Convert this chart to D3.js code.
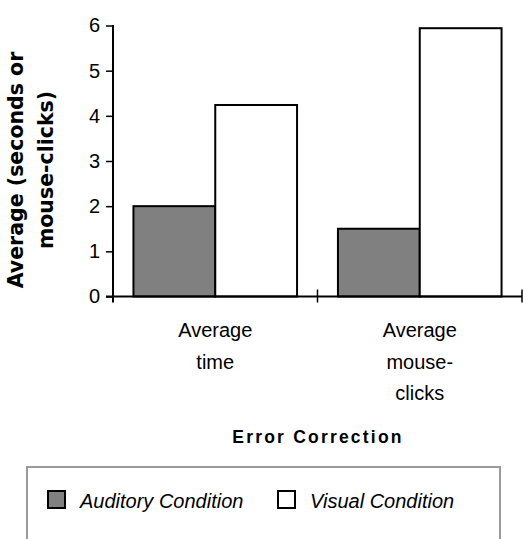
<!DOCTYPE html>
<html>
<head>
<meta charset="utf-8">
<script src="https://cdn.jsdelivr.net/npm/d3@7"></script>
<style>
  html, body { margin: 0; padding: 0; background: #fff; }
  svg { display: block; }
</style>
</head>
<body>
<svg id="chart" width="523" height="539"></svg>
<script>
// Error-correction measures, one bar per condition in each group
const categories = [["Average", "time"], ["Average", "mouse-", "clicks"]];
const seriesNames = ["Auditory Condition", "Visual Condition"];
const auditory = [2.0, 1.5];
const visual = [4.24, 5.94];
const yTicks = [0, 1, 2, 3, 4, 5, 6];
const xTitle = "Error Correction";
const yTitle = ["Average (seconds or", "mouse-clicks)"];

const fills = ["#808080", "#ffffff"];
const svg = d3.select("#chart");

const catKeys = categories.map(c => c.join(" "));
const rows = catKeys.map((k, i) => ({ key: k, values: [auditory[i], visual[i]] }));

const x = d3.scaleBand().domain(catKeys).range([113, 522]).paddingInner(0).paddingOuter(0);
const xs = d3.scaleBand().domain(seriesNames).range([0, x.bandwidth()]).paddingInner(0).paddingOuter(0.25);
const y = d3.scaleLinear().domain([0, 6]).range([296.5, 25.5]);

// Bars
const groups = svg.append("g").selectAll("g").data(rows).join("g")
  .attr("transform", d => `translate(${x(d.key)},0)`);
groups.selectAll("rect")
  .data(d => d.values.map((v, j) => ({ name: seriesNames[j], v, j })))
  .join("rect")
  .attr("x", d => xs(d.name))
  .attr("width", xs.bandwidth())
  .attr("y", d => y(d.v))
  .attr("height", d => y(0) - y(d.v))
  .attr("fill", d => fills[d.j])
  .attr("stroke", "#000")
  .attr("stroke-width", 2);

// Y axis
const yAxis = svg.append("g").attr("transform", "translate(113,0)")
  .call(d3.axisLeft(y).tickValues(yTicks).tickFormat(d3.format("d")).tickSize(7).tickPadding(6));
yAxis.select(".domain").remove();
yAxis.append("line").attr("x1", 0).attr("x2", 0).attr("y1", y(6) - 0.5).attr("y2", y(0) + 6)
  .attr("stroke", "#000").attr("stroke-width", 2);
yAxis.selectAll(".tick line").attr("stroke", "#000").attr("stroke-width", 1.5);
yAxis.selectAll(".tick text")
  .attr("fill", "#000")
  .style("font-family", "Liberation Sans, Arial, sans-serif")
  .style("font-size", "20px");

// X axis line with tick marks at the group boundaries
const xAxis = svg.append("g");
xAxis.append("line").attr("x1", x.range()[0] - 7).attr("x2", x.range()[1])
  .attr("y1", y(0)).attr("y2", y(0)).attr("stroke", "#000").attr("stroke-width", 2);
const bounds = catKeys.map(k => x(k)).concat([x.range()[1]]).slice(1);
xAxis.selectAll("line.tk").data(bounds).join("line").attr("class", "tk")
  .attr("x1", d => d).attr("x2", d => d)
  .attr("y1", y(0) - 7).attr("y2", y(0) + 6)
  .attr("stroke", "#000").attr("stroke-width", 1.5);

// Category labels
const catLabels = svg.append("g").selectAll("text").data(categories).join("text")
  .attr("text-anchor", "middle")
  .style("font-family", "Liberation Sans, Arial, sans-serif")
  .style("font-size", "20px")
  .attr("fill", "#000");
catLabels.selectAll("tspan").data((d, i) => d.map(line => ({ line, key: catKeys[i] }))).join("tspan")
  .attr("x", d => x(d.key) + x.bandwidth() / 2)
  .attr("y", (d, j) => 337 + j * 31.5)
  .text(d => d.line);

// Axis titles
svg.append("text")
  .attr("x", 318).attr("y", 443)
  .attr("text-anchor", "middle")
  .style("font-family", "Liberation Sans, Arial, sans-serif")
  .style("font-size", "17.5px").style("font-weight", "bold")
  .style("letter-spacing", "2.2px")
  .text(xTitle);

svg.append("g").selectAll("text").data(yTitle).join("text")
  .attr("transform", (d, i) => `translate(${23 + i * 30},170) rotate(-90)`)
  .attr("text-anchor", "middle")
  .style("font-family", "DejaVu Sans, sans-serif")
  .style("font-size", "20.5px").style("font-weight", "bold")
  .text(d => d);

// Legend
const legend = svg.append("g");
legend.append("rect").attr("x", 27).attr("y", 467).attr("width", 473).attr("height", 90)
  .attr("fill", "none").attr("stroke", "#9a9a9a").attr("stroke-width", 2);
const legendX = [48, 278];
const items = legend.selectAll("g").data(seriesNames).join("g")
  .attr("transform", (d, i) => `translate(${legendX[i]},491)`);
items.append("rect").attr("width", 17).attr("height", 17)
  .attr("fill", (d, i) => fills[i]).attr("stroke", "#000").attr("stroke-width", 2);
items.append("text").attr("x", 32).attr("y", 17)
  .style("font-family", "Liberation Sans, Arial, sans-serif")
  .style("font-size", "20px").style("font-style", "italic")
  .text(d => d);
</script>
</body>
</html>
